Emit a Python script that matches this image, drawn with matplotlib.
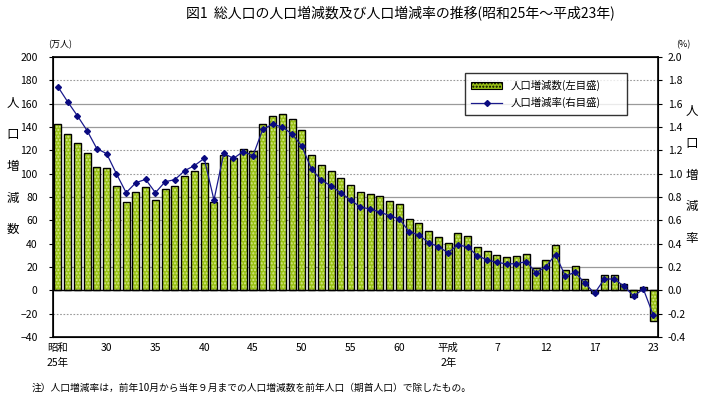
import numpy as np
import matplotlib
matplotlib.use("Agg")
import matplotlib.pyplot as plt
from matplotlib.lines import Line2D
from matplotlib.patches import Patch

plt.rcParams['font.family'] = ['Noto Sans CJK JP', 'DejaVu Sans']

# 昭和25年(1950) ～ 平成23年(2011)
years = list(range(1950, 2012))

# 人口増減数（万人）
increase = [142.9, 134.3, 126.6, 118.0, 106.0, 104.6, 89.7, 76.0, 84.6, 88.2,
            77.7, 87.1, 89.7, 98.3, 102.6, 109.4, 76.0, 116.3, 113.7, 120.9,
            119.1, 142.9, 149.7, 151.4, 147.1, 137.1, 116.3, 107.7, 102.6, 96.6,
            90.6, 84.6, 82.9, 81.2, 76.9, 74.3, 61.4, 58.0, 51.2, 46.0,
            40.9, 49.5, 46.6, 37.4, 33.4, 30.6, 28.9, 29.7, 31.4, 19.4,
            26.3, 39.1, 17.1, 21.1, 9.4, -2.3, 13.4, 13.4, 5.1, -5.4,
            2.9, -26.3]

# 人口増減率（%）
rate = [1.746, 1.617, 1.497, 1.369, 1.214, 1.172, 1.000, 0.837, 0.923, 0.951,
        0.837, 0.931, 0.949, 1.026, 1.069, 1.131, 0.774, 1.174, 1.131, 1.190,
        1.154, 1.380, 1.423, 1.400, 1.340, 1.237, 1.037, 0.946, 0.894, 0.836,
        0.774, 0.714, 0.697, 0.671, 0.640, 0.611, 0.503, 0.474, 0.409, 0.373,
        0.323, 0.391, 0.371, 0.297, 0.260, 0.240, 0.226, 0.229, 0.246, 0.151,
        0.203, 0.306, 0.123, 0.154, 0.063, -0.026, 0.097, 0.097, 0.037, -0.049,
        0.011, -0.209]

tick_index = [0, 5, 10, 15, 20, 25, 30, 35, 40, 45, 50, 55, 61]
tick_labels = ['昭和\n25年', '30', '35', '40', '45', '50', '55', '60',
               '平成\n2年', '7', '12', '17', '23']

x = np.arange(len(years))

fig = plt.figure(figsize=(7.06, 4.0), dpi=100)
ax = fig.add_axes([0.075, 0.1575, 0.857, 0.70])

# grid lines
solid_levels = [160, 140, 80, 20]
dotted_levels = [180, 120, 100, 60, 40, -20]
for v in solid_levels:
    ax.axhline(v, color='#9a9a9a', lw=0.9, zorder=0)
for v in dotted_levels:
    ax.axhline(v, color='#9a9a9a', lw=0.8, ls=(0, (1.5, 1.5)), zorder=0)

# bars: dotted green fill + black outline
ax.bar(x, increase, width=0.72, color='#99c214', edgecolor='#d6ea8c',
       hatch='.....', linewidth=0, zorder=2)
ax.bar(x, increase, width=0.72, fill=False, edgecolor='black',
       linewidth=1.0, zorder=3)
ax.axhline(0, color='black', lw=1.0, zorder=4)

ax.set_xlim(-0.5, len(years) - 0.5)
ax.set_ylim(-40, 200)
ax.set_yticks(np.arange(-40, 201, 20))
ax.tick_params(axis='y', labelsize=7.5, length=3, direction='out', pad=8)
ax.set_xticks(tick_index)
ax.set_xticklabels(tick_labels, fontsize=7.5, linespacing=1.6, va='top')
ax.tick_params(axis='x', length=0, pad=4)
for lbl in ax.get_xticklabels():
    lbl.set_horizontalalignment('center')
for s in ax.spines.values():
    s.set_linewidth(1.2)

ax2 = ax.twinx()
ax2.plot(x, rate, color='#1a1a8c', lw=0.9, marker='D', markersize=3,
         markerfacecolor='#0a0a80', markeredgecolor='#0a0a80', zorder=5)
ax2.set_ylim(-0.4, 2.0)
ax2.set_yticks(np.arange(-0.4, 2.01, 0.2))
ax2.set_yticklabels([f'{v:.1f}' for v in np.arange(-0.4, 2.01, 0.2)])
ax2.tick_params(axis='y', labelsize=7.5, length=3, direction='out', pad=4)
ax.set_zorder(1)
ax2.set_zorder(2)
ax2.patch.set_visible(False)

# units
fig.text(0.068, 0.888, '(万人)', fontsize=6.5, ha='left', va='center')
fig.text(0.968, 0.888, '(%)', fontsize=6.5, ha='center', va='center')

# vertical axis titles
left_chars = '人口増減数'
right_chars = '人口増減率'
for i, ch in enumerate(left_chars):
    fig.text(0.018, 0.742 - i * 0.079, ch, fontsize=9, ha='center', va='center')
for i, ch in enumerate(right_chars):
    fig.text(0.98, 0.72 - i * 0.079, ch, fontsize=9, ha='center', va='center')

# legend
handles = [Patch(facecolor='#99c214', edgecolor='black', hatch='.....', linewidth=0.8),
           Line2D([0], [0], color='#1a1a8c', lw=0.9, marker='D', markersize=3,
                  markerfacecolor='#0a0a80', markeredgecolor='#0a0a80')]
leg = ax2.legend(handles, ['人口増減数(左目盛)', '人口増減率(右目盛)'],
                 loc='upper left', bbox_to_anchor=(0.672, 0.96, 0.285, 0.0),
                 mode='expand', fontsize=7.5,
                 frameon=True, fancybox=False, edgecolor='black',
                 handlelength=3.0, borderpad=0.6, labelspacing=0.6)
leg.get_frame().set_linewidth(1.0)

fig.text(0.567, 0.965, '図1  総人口の人口増減数及び人口増減率の推移(昭和25年～平成23年)',
         fontsize=10, ha='center', va='center')
fig.text(0.045, 0.03, '注）人口増減率は，前年10月から当年９月までの人口増減数を前年人口（期首人口）で除したもの。',
         fontsize=7, ha='left', va='center')

fig.savefig('out.png', dpi=100)
